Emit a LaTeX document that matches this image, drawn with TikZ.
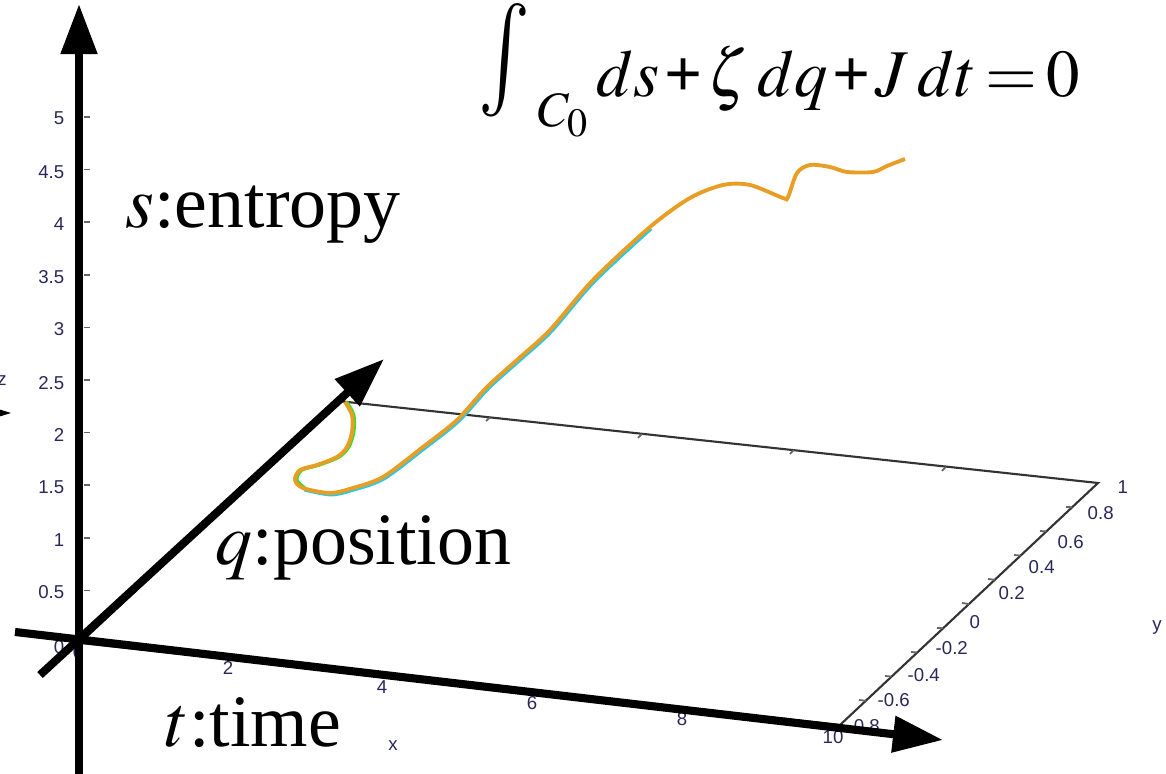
\documentclass[tikz,border=0pt]{standalone}
\usepackage{mathptmx}
\usepackage{fontspec}
\setmainfont{Liberation Serif}
\newfontfamily\ticksans{Liberation Sans}
\usepackage{tikz}
\usetikzlibrary{arrows.meta}
\definecolor{tickblue}{RGB}{40,40,90}
\definecolor{curveorange}{RGB}{232,158,36}
\definecolor{curvecyan}{RGB}{40,200,230}
\definecolor{curvegreen}{RGB}{60,220,40}

\begin{document}
\begin{tikzpicture}[x=0.01cm,y=-0.01cm,
	box/.style={line width=0.6pt,black!80},
	ztick/.style={line width=0.5pt,black!60},
	ticklab/.style={font=\ticksans\fontsize{5.3}{6}\selectfont,text=tickblue,inner sep=0pt},
	bigaxis/.style={line width=2.3pt,-{Triangle[length=0.5cm,width=0.35cm]}},
	bigtext/.style={font=\fontsize{21}{25}\selectfont,inner sep=0pt,anchor=base west}]
		\useasboundingbox (0,0) rectangle (1166,774);
		\draw[box] (80,643) -- (840,725) -- (1098,483) -- (338,401) -- cycle;
		\draw[ztick] (490,417.4) -- (486,421);
		\draw[ztick] (642,434) -- (638,438);
		\draw[ztick] (794,450) -- (790,454);
		\draw[ztick] (946,467) -- (942,471);
		\draw[ztick] (865.8,700.8) -- (859,700);
		\draw[ztick] (891.6,676.6) -- (885,676);
		\draw[ztick] (917.4,652.4) -- (911,652);
		\draw[ztick] (943.2,628.2) -- (937,628);
		\draw[ztick] (969,604) -- (962,603);
		\draw[ztick] (994.8,579.8) -- (988,579);
		\draw[ztick] (1020.6,555.6) -- (1014,555);
		\draw[ztick] (1046.4,531.4) -- (1040,531);
		\draw[ztick] (1072.2,507.2) -- (1066,507);
		\draw[ztick] (84,590.4) -- (90,590.4);
		\draw[ztick] (84,537.8) -- (90,537.8);
		\draw[ztick] (84,485.2) -- (90,485.2);
		\draw[ztick] (84,432.6) -- (90,432.6);
		\draw[ztick] (84,380) -- (90,380);
		\draw[ztick] (84,327.4) -- (90,327.4);
		\draw[ztick] (84,274.8) -- (90,274.8);
		\draw[ztick] (84,222.2) -- (90,222.2);
		\draw[ztick] (84,169.6) -- (90,169.6);
		\draw[ztick] (84,117) -- (90,117);
		\node[ticklab,anchor=east] (z0) at (65,647) {0};
		\node[ticklab,anchor=east] (z05) at (65,592) {0.5};
		\node[ticklab,anchor=east] (z1) at (65,540) {1};
		\node[ticklab,anchor=east] (z15) at (65,487) {1.5};
		\node[ticklab,anchor=east] (z2) at (65,435) {2};
		\node[ticklab,anchor=east] (z25) at (65,383) {2.5};
		\node[ticklab,anchor=east] (z3) at (65,329) {3};
		\node[ticklab,anchor=east] (z35) at (65,277) {3.5};
		\node[ticklab,anchor=east] (z4) at (65,224) {4};
		\node[ticklab,anchor=east] (z45) at (65,172) {4.5};
		\node[ticklab,anchor=east] (z5) at (65,118) {5};
		\node[ticklab] (zname) at (2,381) {z};
		\fill[black] (-2,409) -- (11,413) -- (-2,417) -- cycle;
		\node[ticklab] (x0) at (78,652) {0};
		\node[ticklab] (x2) at (228,668) {2};
		\node[ticklab] (x4) at (382,687) {4};
		\node[ticklab] (x6) at (532,703) {6};
		\node[ticklab] (x8) at (682,719) {8};
		\node[ticklab] (x10) at (833,737) {10};
		\node[ticklab] (xname) at (393,746) {x};
		\node[ticklab,anchor=west] (ym08) at (847,726) {-0.8};
		\node[ticklab,anchor=west] (ym06) at (877,700) {-0.6};
		\node[ticklab,anchor=west] (ym04) at (907,675) {-0.4};
		\node[ticklab,anchor=west] (ym02) at (935,648) {-0.2};
		\node[ticklab,anchor=west] (y0) at (969,622) {0};
		\node[ticklab,anchor=west] (y02) at (998,593) {0.2};
		\node[ticklab,anchor=west] (y04) at (1028,567) {0.4};
		\node[ticklab,anchor=west] (y06) at (1057,542) {0.6};
		\node[ticklab,anchor=west] (y08) at (1087,513) {0.8};
		\node[ticklab,anchor=west] (y1) at (1117,487) {1};
		\node[ticklab] (yname) at (1157,628) {y};
		\draw[curvegreen,line width=1.1pt,shift={(1.5,0)}] plot[smooth] coordinates {(345,402) (352,415) (352,432) (347,447) (337,457) (317,465) (300,470) (295,480) (303,488)};
		\draw[curvecyan,line width=1.1pt,shift={(1,1.5)}] plot[smooth] coordinates {(303,488) (330,493) (353,488) (383,477) (423,447) (457,420) (487,387) (517,360) (550,330) (593,280) (650,227)};
		\draw[curveorange,line width=1.1pt] plot[smooth] coordinates {(345,402) (352,415) (352,432) (347,447) (337,457) (317,465) (300,470) (295,480) (303,488) (330,493) (353,488) (383,477) (423,447) (457,420) (487,387) (517,360) (550,330) (593,280) (650,227) (690,198) (723,185) (750,185) (783,198) (788,197) (797,173) (810,165) (830,167) (847,172) (873,172) (887,166) (905,159)};
		\draw[bigaxis] (79,774) -- (79,4);
		\draw[bigaxis] (15,632) -- (943,740);
		\draw[bigaxis] (40,675) -- (384,359);
		\node[bigtext] (entropy) at (125,228) {$s$:entropy};
		\node[bigtext] (position) at (215,565) {$q$:position};
		\node[bigtext] (time) at (165,747) {$t$:time};
		\node[anchor=base west,inner sep=0pt,font=\fontsize{19}{23}\selectfont] (balance) at (478,97) {\medmuskip=1.3mu\thickmuskip=2.5mu$\smash{\raisebox{0.08cm}{\scalebox{1.3}[1.7]{$\int$}}}\,\raisebox{-0.3cm}{$\scriptstyle C_0$}\,ds\mathbin{\textbf{+}}\zeta\;dq\mathbin{\textbf{+}}J\;dt=0$};
	\end{tikzpicture}
\end{document}
